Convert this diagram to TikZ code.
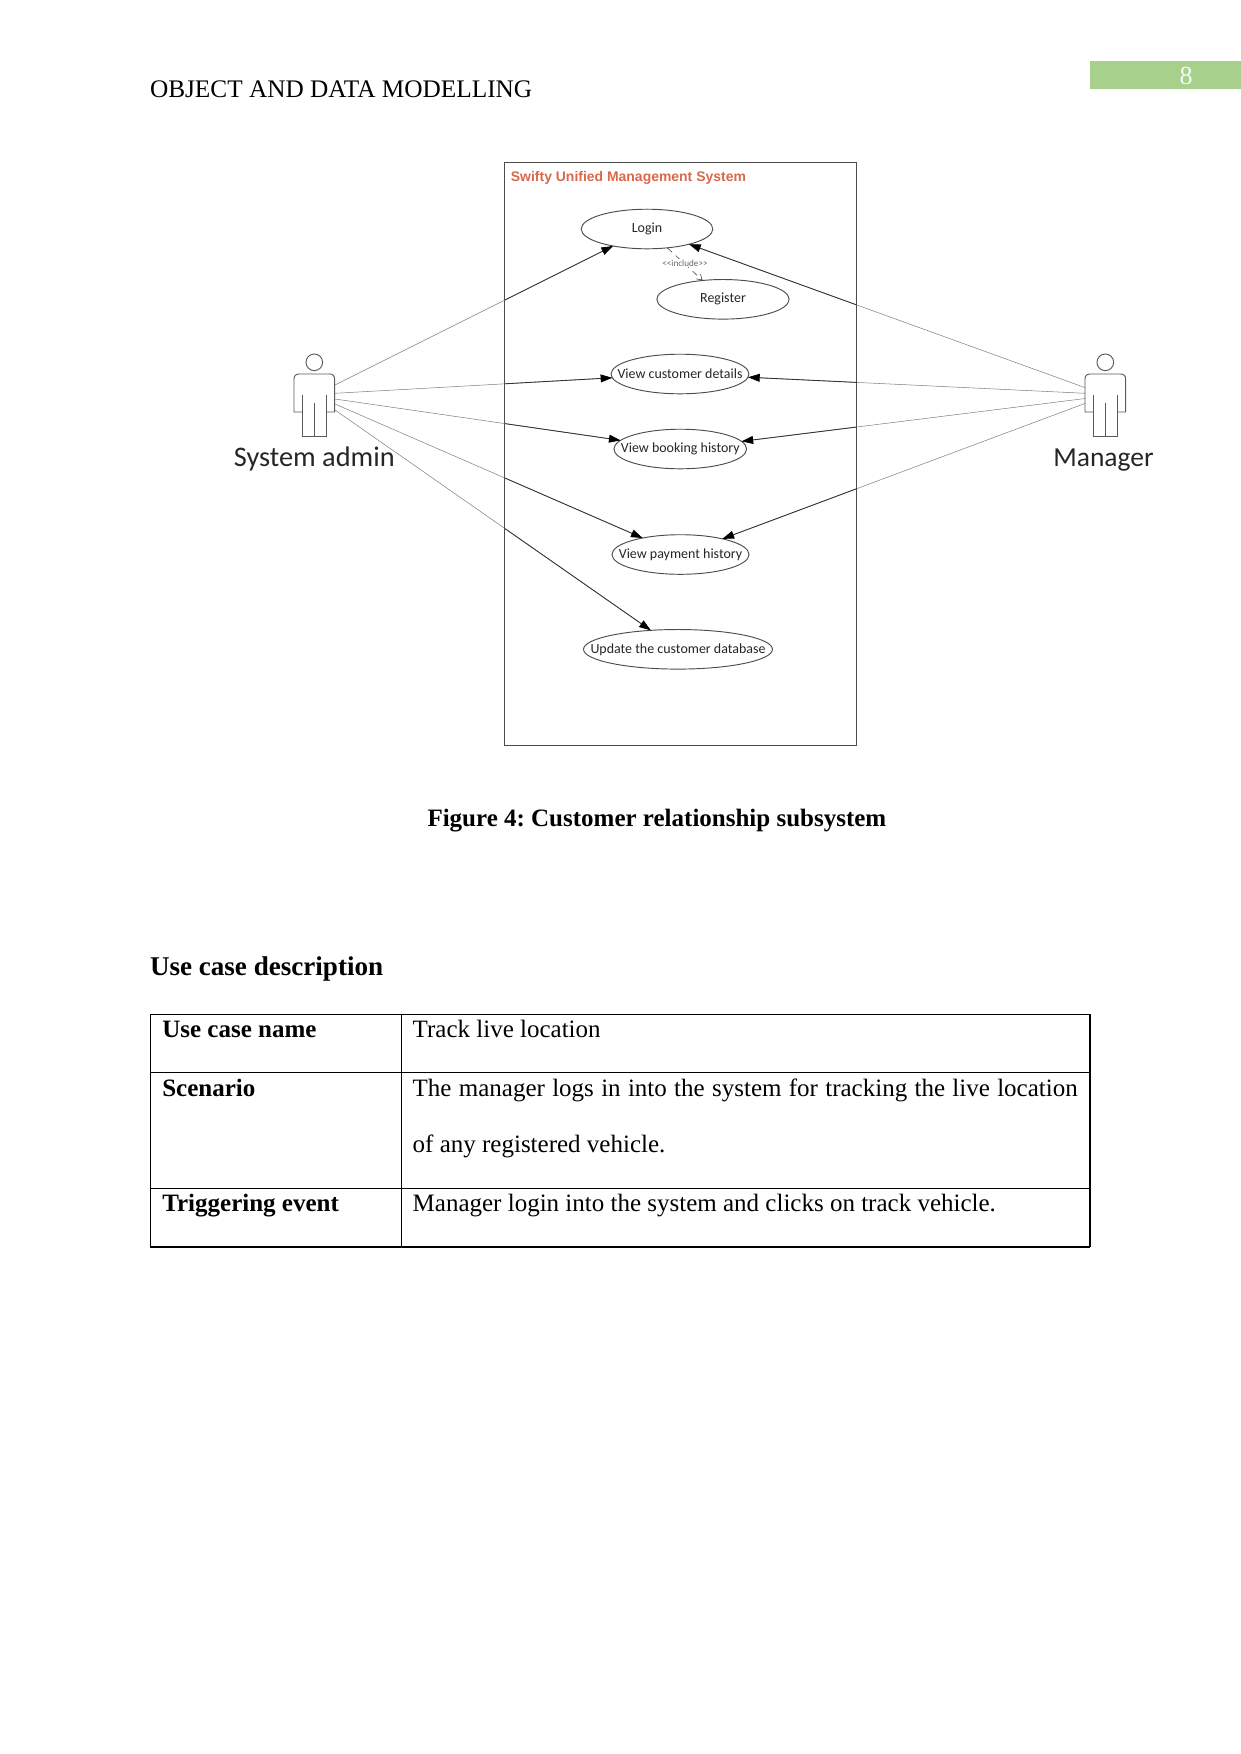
\documentclass[tikz,border=0pt]{standalone}
\usepackage{fontspec}
\setmainfont{Liberation Serif}
\newfontfamily\uml{Carlito}
\newfontfamily\umlhead{Liberation Sans}
\usetikzlibrary{shapes.geometric,arrows.meta}
\definecolor{headgreen}{HTML}{A8D08D}
\definecolor{titlered}{HTML}{D9684C}
\tikzset{
  x=0.48pt,y=-0.48pt,
  txt/.style={inner sep=0pt,outer sep=0pt,anchor=base west,font=\frenchspacing\fontsize{12}{14}\selectfont,text=black},
  boldtxt/.style={txt,font=\frenchspacing\fontsize{12}{14}\selectfont\bfseries},
  usecase/.style={ellipse,draw=black!70,line width=0.45pt,inner sep=0pt,outer sep=0pt,minimum height=19pt},
  uclabel/.style={font=\uml\fontsize{6.7}{8}\selectfont,text=black!85,inner sep=0pt},
  actorline/.style={draw=black!65,line width=0.45pt},
  actorname/.style={inner sep=0pt,outer sep=0pt,anchor=base,font=\uml\fontsize{13.2}{15}\selectfont,text=black!85},
  faint/.style={draw=black!50,line width=0.25pt},
  strong/.style={draw=black!80,line width=0.4pt,-{Triangle[length=5.6pt,width=3.8pt,color=black]}},
  incl/.style={draw=black!70,line width=0.3pt,dash pattern=on 3pt off 2.5pt,-{Straight Barb[length=2.5pt,width=3pt]}},
  tbl/.style={draw=black,line width=0.5pt},
  actor/.pic={
    \draw[actorline] (0,0) circle[radius=4pt];
    \draw[actorline] (-12,49.7) -- (-20.3,49.7) -- (-20.3,16.7)
      .. controls (-20.3,13.5) and (-18.5,11.7) .. (-15.3,11.7) -- (15.3,11.7)
      .. controls (18.5,11.7) and (20.3,13.5) .. (20.3,16.7) -- (20.3,49.7) -- (12.2,49.7);
    \draw[actorline] (-12,33) -- (-12,74.4) -- (12.2,74.4) -- (12.2,33);
    \draw[actorline] (0,41) -- (0,74.4);
  }
}
\newcommand{\outerline}[2]{\draw[faint] (#1) -- (#2);}
\newcommand{\innerline}[2]{\draw[strong] (#1) -- (#2);}
\begin{document}
\begin{tikzpicture}
\useasboundingbox (0,0) rectangle (1241,1754);
% page header
\fill[headgreen] (1090.3,60.7) rectangle (1241,89.3);
\node[inner sep=0pt,text=white!90!headgreen,font=\fontsize{12.5}{14}\selectfont] (pageno) at (1186,75.5) {8};
\node[txt,font=\fontsize{12.14}{14}\selectfont] (head) at (150,97) {OBJECT AND DATA MODELLING};

% system frame
\node[draw=black!70,line width=0.5pt,minimum width=169pt,minimum height=279.6pt,inner sep=0pt,outer sep=0pt] (frame) at (680.7,454) {};
\node[inner sep=0pt,anchor=base west,text=titlered,font=\umlhead\bfseries\fontsize{6.7}{8}\selectfont] (title) at (510.5,181.5) {Swifty Unified Management System};

% use cases
\node[usecase,minimum width=63.2pt,label={[uclabel]center:Login}] (login) at (647,229) {};
\node[usecase,minimum width=63.5pt,label={[uclabel]center:Register}] (register) at (723,299.3) {};
\node[usecase,minimum width=66.2pt,label={[uclabel]center:View customer details}] (details) at (680,374) {};
\node[usecase,minimum width=63.7pt,label={[uclabel]center:View booking history}] (booking) at (680.3,449) {};
\node[usecase,minimum width=65.8pt,label={[uclabel]center:View payment history}] (payment) at (680.5,554.5) {};
\node[usecase,minimum width=90.7pt,label={[uclabel]center:Update the customer database}] (update) at (678,649.3) {};

% actors
\pic at (314.3,362.3) {actor};
\pic at (1105.3,362.3) {actor};
\node[actorname,font=\uml\fontsize{13.6}{15}\selectfont] (sysadmin) at (314.3,466) {System admin};
\node[actorname] (manager) at (1103.5,466) {Manager};
\coordinate (sa1) at (335,385);
\coordinate (sa2) at (335,393.3);
\coordinate (sa3) at (335,399);
\coordinate (sa4) at (335,404);
\coordinate (sa5) at (335,410);
\coordinate (mg1) at (1085.3,387.7);
\coordinate (mg2) at (1085.3,393.3);
\coordinate (mg3) at (1085.3,398.5);
\coordinate (mg4) at (1085.3,403.3);

% connectors: thin and pale outside the frame, stronger inside it
\outerline{sa1}{login}
\outerline{sa2}{details}
\outerline{sa3}{booking}
\outerline{sa4}{payment}
\outerline{sa5}{update}
\outerline{mg1}{login}
\outerline{mg2}{details}
\outerline{mg3}{booking}
\outerline{mg4}{payment}
\begin{scope}
\clip (frame.south west) rectangle (frame.north east);
\innerline{sa1}{login}
\innerline{sa2}{details}
\innerline{sa3}{booking}
\innerline{sa4}{payment}
\innerline{sa5}{update}
\innerline{mg1}{login}
\innerline{mg2}{details}
\innerline{mg3}{booking}
\innerline{mg4}{payment}
\end{scope}
\draw[incl] (login) -- (register);
\node[fill=white,inner sep=0.3pt,text=black!60,font=\uml\fontsize{4.4}{5}\selectfont] (inclabel) at (685,263.2) {{<}{<}include{>}{>}};

% caption and section heading
\node[boldtxt] (caption) at (427.5,826) {Figure 4: Customer relationship subsystem};
\node[boldtxt,font=\frenchspacing\fontsize{13}{16}\selectfont\bfseries] (section) at (150,975.5) {Use case description};

% table
\draw[tbl] (150.3,1014.7) rectangle (1090,1246.7);
\draw[tbl] (401.7,1014.7) -- (401.7,1246.7);
\draw[tbl] (150.3,1072.3) -- (1090,1072.3);
\draw[tbl] (150.3,1188.3) -- (1090,1188.3);
\draw[draw=black,line width=0.9pt] (150.3,1246.7) -- (1090,1246.7);
\node[boldtxt] (r1a) at (162.3,1037.7) {Use case name};
\node[txt] (r1b) at (412.7,1037.7) {Track live location};
\node[boldtxt] (r2a) at (162.3,1096) {Scenario};
\node[txt] (r2b) at (412.7,1096) {\makebox[319.2pt][s]{The manager logs in into the system for tracking the live location}};
\node[txt] (r2c) at (412.7,1152.7) {of any registered vehicle.};
\node[boldtxt] (r3a) at (162.3,1211.7) {Triggering event};
\node[txt] (r3b) at (412.7,1211.7) {Manager login into the system and clicks on track vehicle.};
\end{tikzpicture}
\end{document}
